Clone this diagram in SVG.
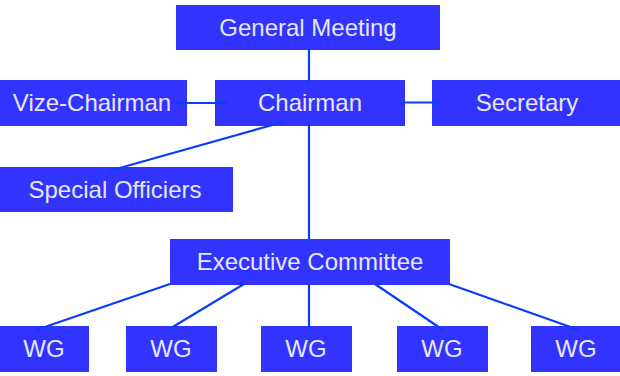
<svg xmlns="http://www.w3.org/2000/svg" width="620" height="376" viewBox="0 0 620 376">
<style>
.box{fill:#3333ff}
.lbl{font-family:"Liberation Sans",Arial,sans-serif;font-size:24px;fill:#e6e6f5;text-anchor:middle}
.con line{stroke:#0a3cff;stroke-width:2.2;fill:none}
</style>
<rect width="620" height="376" fill="#ffffff"/>
<g id="general-meeting"><rect class="box" x="176" y="5" width="264" height="45"/><text class="lbl" x="308" y="36">General Meeting</text></g>
<g id="vize-chairman"><rect class="box" x="0" y="80" width="187" height="46"/><text class="lbl" x="92" y="111">Vize-Chairman</text></g>
<g id="chairman"><rect class="box" x="215" y="80" width="190" height="46"/><text class="lbl" x="310" y="111">Chairman</text></g>
<g id="secretary"><rect class="box" x="432" y="80" width="188" height="46"/><text class="lbl" x="527" y="111">Secretary</text></g>
<g id="special-officiers"><rect class="box" x="0" y="167" width="233" height="45"/><text class="lbl" x="115" y="198">Special Officiers</text></g>
<g id="executive-committee"><rect class="box" x="170" y="239" width="280" height="46"/><text class="lbl" x="310" y="270">Executive Committee</text></g>
<g id="wg1"><rect class="box" x="0" y="326" width="89" height="46"/><text class="lbl" x="44" y="357">WG</text></g>
<g id="wg2"><rect class="box" x="126" y="326" width="91" height="46"/><text class="lbl" x="171" y="357">WG</text></g>
<g id="wg3"><rect class="box" x="261" y="326" width="91" height="46"/><text class="lbl" x="306" y="357">WG</text></g>
<g id="wg4"><rect class="box" x="397" y="326" width="91" height="46"/><text class="lbl" x="442" y="357">WG</text></g>
<g id="wg5"><rect class="box" x="531" y="326" width="89" height="46"/><text class="lbl" x="576" y="357">WG</text></g>
<g id="connectors" class="con">
<line x1="309" y1="48" x2="309" y2="84"/>
<line x1="176" y1="103" x2="228" y2="103"/>
<line x1="401" y1="102.5" x2="440" y2="102.5"/>
<line x1="283" y1="122" x2="109" y2="171"/>
<line x1="309" y1="123" x2="309" y2="241"/>
<line x1="170" y1="284" x2="36" y2="330"/>
<line x1="244" y1="284" x2="171" y2="328"/>
<line x1="309" y1="284" x2="309" y2="328"/>
<line x1="375" y1="284" x2="443" y2="330"/>
<line x1="449" y1="284" x2="579" y2="330"/>
</g>
</svg>
